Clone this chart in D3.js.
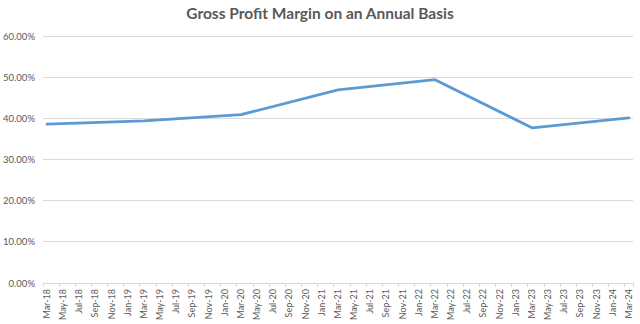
<!DOCTYPE html>
<html><head><meta charset="utf-8">
<script src="https://cdn.jsdelivr.net/npm/d3@7"></script>
<style>body{margin:0;background:#fff}svg{display:block}</style>
</head><body>
<svg id="c" width="640" height="324"></svg>
<script>
const title = "Gross Profit Margin on an Annual Basis";
const pointDates = ["2018-03","2019-03","2020-03","2021-03","2022-03","2023-03","2024-03"];
const margins = [0.386, 0.394, 0.409, 0.469, 0.494, 0.377, 0.401];
const yTicks = [0, 0.1, 0.2, 0.3, 0.4, 0.5, 0.6];

const parse = d3.timeParse("%Y-%m");
const fmtM = d3.timeFormat("%b-%y");
const months = d3.timeMonth.range(parse("2018-03"), d3.timeMonth.offset(parse("2024-03"), 1));
const monthKeys = months.map(fmtM);
const tickLabels = monthKeys.filter((d, i) => i % 2 === 0);

const svg = d3.select("#c");
const L = 43, R = 633, T = 36, B = 283;
const x = d3.scaleBand().domain(monthKeys).range([L, R]);
const y = d3.scaleLinear().domain([0, 0.6]).range([B, T]);
const font = "Lato, 'Open Sans', sans-serif";

svg.append("text").attr("x", 320).attr("y", 19).attr("text-anchor", "middle")
  .attr("font-family", font).attr("font-weight", "bold").attr("font-size", 15.5)
  .attr("fill", "#595959").text(title);

// gridlines
svg.append("g").selectAll("line").data(yTicks).join("line")
  .attr("x1", L).attr("x2", R).attr("y1", d => y(d)).attr("y2", d => y(d))
  .attr("stroke", "#d9d9d9").attr("stroke-width", 1).attr("shape-rendering", "crispEdges");

// y axis labels
const yAxis = d3.axisLeft(y).tickValues(yTicks).tickSize(0).tickPadding(8)
  .tickFormat(d3.format(".2%"));
const gy = svg.append("g").attr("transform", `translate(${L},0)`).call(yAxis);
gy.select(".domain").remove();
gy.selectAll("text").attr("font-family", font).attr("font-size", 9.5).attr("fill", "#595959");

// x axis
const xAxis = d3.axisBottom(x).tickValues(tickLabels).tickSize(0).tickPadding(0);
const gx = svg.append("g").attr("transform", `translate(0,${B})`).call(xAxis);
gx.select(".domain").remove();
gx.selectAll("text").attr("font-family", font).attr("font-size", 9).attr("fill", "#595959")
  .attr("transform", "rotate(-90)").attr("text-anchor", "end").attr("dy", "0.32em")
  .attr("x", -6).attr("y", 0);
// tick marks at boundaries
svg.append("g").selectAll("line").data(tickLabels.concat(["end"])).join("line")
  .attr("x1", d => d === "end" ? R : x(d)).attr("x2", d => d === "end" ? R : x(d))
  .attr("y1", B).attr("y2", B + 4).attr("stroke", "#d9d9d9").attr("shape-rendering", "crispEdges");

// line
const pts = pointDates.map((d, i) => ({k: fmtM(parse(d)), v: margins[i]}));
svg.append("path").datum(pts)
  .attr("d", d3.line().x(d => x(d.k) + x.bandwidth() / 2).y(d => y(d.v)))
  .attr("fill", "none").attr("stroke", "#5b9bd5").attr("stroke-width", 2.8)
  .attr("stroke-linejoin", "round").attr("stroke-linecap", "round");
</script>
</body></html>
